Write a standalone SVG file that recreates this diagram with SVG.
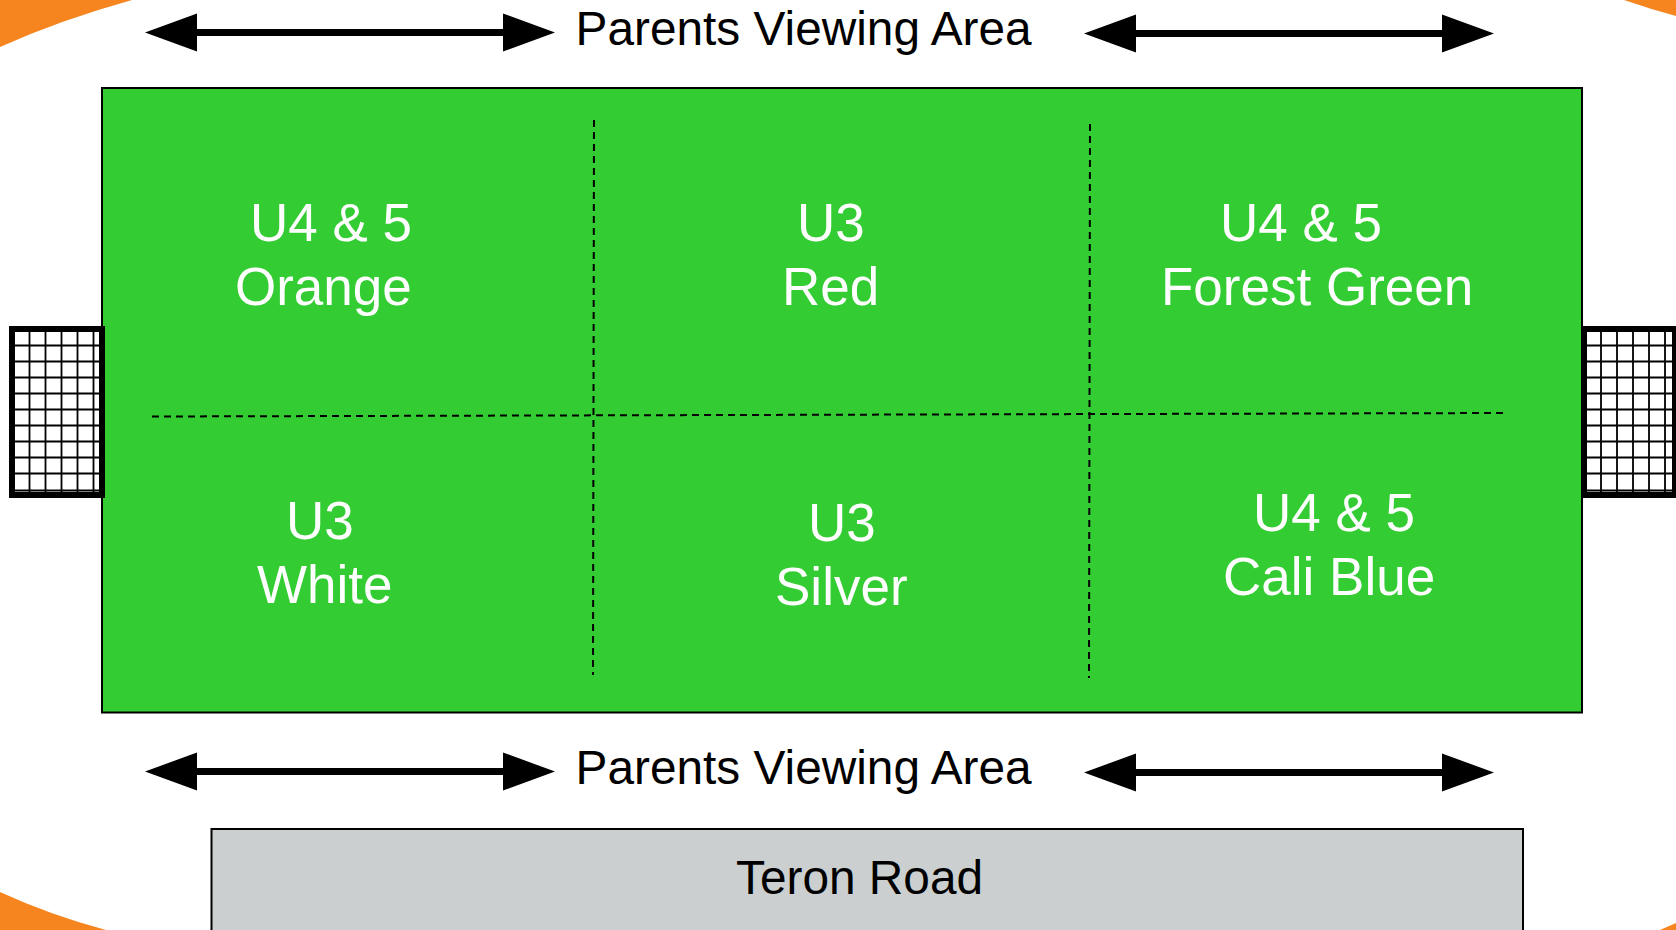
<svg xmlns="http://www.w3.org/2000/svg" width="1676" height="930" viewBox="0 0 1676 930">
<defs>
<style>
.w{font-family:"Liberation Sans",Arial,sans-serif;font-size:53px;fill:#fff}
.k{font-family:"Liberation Sans",Arial,sans-serif;font-size:47.800px;fill:#000}
.d{stroke:#000;stroke-width:2;stroke-dasharray:7 5;fill:none}
.a{stroke:#000;stroke-width:7;fill:none}
.n{stroke:#000;stroke-width:1.8;fill:none}
.f{stroke:#000;stroke-width:6;fill:#fff}
</style>
<g id="arrow"><path class="a" d="M50 0H360"/><path d="M0 0L52 -19V19ZM410 0L358 -19V19Z"/></g>
</defs>
<rect width="1676" height="930" fill="#fff"/>
<g id="corners" fill="#f6841f">
<path d="M0 0H132Q60 20 0 47Z"/>
<path d="M0 892Q50 915 106 930H0Z"/>
<path d="M1624 0H1676V16Q1650 9 1624 0Z"/>
<path d="M1660 930L1676 923V930Z"/>
</g>
<g id="field"><rect x="102" y="88" width="1480" height="624.500" fill="#33cc33" stroke="#000" stroke-width="2"/></g>
<g id="goal-left">
<rect class="f" x="12" y="329" width="90" height="166"/>
<path class="n" d="M29.500 332V492M45.500 332V492M61.500 332V492M77.500 332V492M93.500 332V492M15 345.500H99M15 361.500H99M15 377.500H99M15 393.500H99M15 409.500H99M15 425.500H99M15 441.500H99M15 457.500H99M15 473.500H99M15 490.500H99"/>
</g>
<g id="goal-right">
<rect class="f" x="1584" y="329" width="100" height="166"/>
<path class="n" d="M1601 332V492M1617 332V492M1633 332V492M1649 332V492M1665 332V492M1587 345.500H1672M1587 361.500H1672M1587 377.500H1672M1587 393.500H1672M1587 409.500H1672M1587 425.500H1672M1587 441.500H1672M1587 457.500H1672M1587 473.500H1672M1587 490.500H1672"/>
<rect x="1672" y="329" width="4" height="166" fill="#000"/>
</g>
<g id="connectors">
<path class="d" d="M594 120L593 675"/>
<path class="d" d="M1090 124L1089 678"/>
<path class="d" d="M152 416.500L1506 413"/>
<use href="#arrow" x="145" y="32.500"/>
<use href="#arrow" x="1084" y="33.500"/>
<use href="#arrow" x="145" y="771.500"/>
<use href="#arrow" x="1084" y="772.500"/>
</g>
<g id="road"><rect x="211.500" y="829" width="1311.500" height="110" fill="#cbcfd0" stroke="#000" stroke-width="2"/><text class="k" x="736" y="894">Teron Road</text></g>
<g id="label-top"><text class="k" x="575.500" y="45">Parents Viewing Area</text></g>
<g id="label-bottom"><text class="k" x="575.500" y="784">Parents Viewing Area</text></g>
<g id="zone-1"><text class="w" x="250" y="241">U4 &amp; 5</text><text class="w" x="235" y="305">Orange</text></g>
<g id="zone-2"><text class="w" x="797" y="241">U3</text><text class="w" x="782" y="305">Red</text></g>
<g id="zone-3"><text class="w" x="1220" y="241">U4 &amp; 5</text><text class="w" x="1161" y="305">Forest Green</text></g>
<g id="zone-4"><text class="w" x="286" y="539">U3</text><text class="w" x="257" y="603">White</text></g>
<g id="zone-5"><text class="w" x="808" y="541">U3</text><text class="w" x="775" y="605">Silver</text></g>
<g id="zone-6"><text class="w" x="1253" y="531">U4 &amp; 5</text><text class="w" x="1223" y="595">Cali Blue</text></g>
</svg>
